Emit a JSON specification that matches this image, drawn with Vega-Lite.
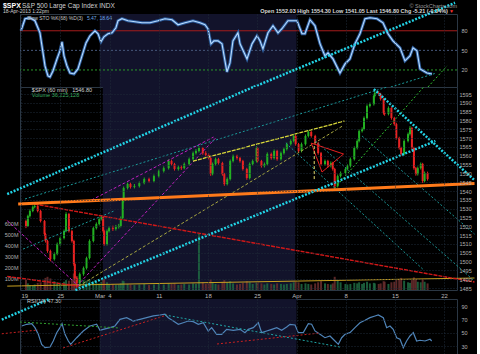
{
"$schema": "https://vega.github.io/schema/vega-lite/v6.json",
"background": "#000000",
"padding": {"left": 0, "top": 1, "right": 0, "bottom": 0},
"config": {
  "view": {"stroke": "#2b3744", "strokeWidth": 1},
  "axis": {"domain": false, "ticks": false, "gridColor": "#1f2b39", "gridDash": [1, 2], "gridWidth": 1, "labelFont": "Liberation Sans", "labelFontSize": 5.5, "labelColor": "#b0b0b0", "labelOverlap": false},
  "text": {"font": "Liberation Sans"}
},
"datasets": {
  "one": [{}],
  "candles": [
{"t":0.00,"o":1523.0,"h":1523.8,"l":1519.0,"c":1520.2,"v":95},
{"t":0.20,"o":1520.2,"h":1526.6,"l":1519.6,"c":1525.8,"v":60},
{"t":0.41,"o":1525.8,"h":1529.6,"l":1525.0,"c":1528.7,"v":45},
{"t":0.71,"o":1528.7,"h":1531.8,"l":1528.0,"c":1530.9,"v":40},
{"t":0.91,"o":1530.9,"h":1532.6,"l":1530.2,"c":1531.5,"v":50},
{"t":1.22,"o":1531.5,"h":1532.0,"l":1527.9,"c":1528.7,"v":65},
{"t":1.52,"o":1528.7,"h":1529.4,"l":1522.2,"c":1523.0,"v":70},
{"t":1.93,"o":1523.0,"h":1523.6,"l":1514.6,"c":1515.6,"v":90},
{"t":2.03,"o":1515.6,"h":1516.3,"l":1510.8,"c":1511.7,"v":110},
{"t":2.24,"o":1511.7,"h":1512.4,"l":1505.0,"c":1506.0,"v":120},
{"t":2.54,"o":1506.0,"h":1506.8,"l":1500.2,"c":1501.4,"v":105},
{"t":2.95,"o":1501.4,"h":1505.2,"l":1500.6,"c":1504.3,"v":80},
{"t":3.25,"o":1504.3,"h":1510.8,"l":1503.6,"c":1509.9,"v":70},
{"t":3.56,"o":1509.9,"h":1514.2,"l":1509.0,"c":1513.4,"v":65},
{"t":3.96,"o":1513.4,"h":1518.2,"l":1512.6,"c":1517.3,"v":75},
{"t":4.17,"o":1517.3,"h":1528.0,"l":1516.6,"c":1527.0,"v":90},
{"t":4.47,"o":1527.0,"h":1527.6,"l":1516.5,"c":1517.3,"v":85},
{"t":4.78,"o":1517.3,"h":1518.0,"l":1510.8,"c":1511.7,"v":100},
{"t":4.98,"o":1511.7,"h":1512.4,"l":1497.6,"c":1498.6,"v":150},
{"t":5.08,"o":1498.6,"h":1499.4,"l":1489.6,"c":1490.7,"v":130},
{"t":5.28,"o":1490.7,"h":1491.6,"l":1485.2,"c":1487.8,"v":125},
{"t":5.59,"o":1487.8,"h":1493.8,"l":1487.0,"c":1492.9,"v":110},
{"t":5.99,"o":1492.9,"h":1497.2,"l":1492.0,"c":1496.3,"v":90},
{"t":6.30,"o":1496.3,"h":1502.8,"l":1495.5,"c":1502.0,"v":85},
{"t":6.61,"o":1502.0,"h":1512.6,"l":1501.2,"c":1511.7,"v":95},
{"t":7.01,"o":1511.7,"h":1519.9,"l":1510.9,"c":1519.0,"v":80},
{"t":7.32,"o":1519.0,"h":1522.2,"l":1518.2,"c":1521.3,"v":70},
{"t":7.62,"o":1521.3,"h":1525.0,"l":1520.5,"c":1524.1,"v":60},
{"t":7.83,"o":1524.1,"h":1526.4,"l":1523.3,"c":1525.3,"v":75},
{"t":8.03,"o":1525.3,"h":1526.0,"l":1516.4,"c":1517.3,"v":90},
{"t":8.13,"o":1517.3,"h":1518.0,"l":1509.0,"c":1509.9,"v":100},
{"t":8.43,"o":1509.9,"h":1518.2,"l":1509.1,"c":1517.3,"v":70},
{"t":8.64,"o":1517.3,"h":1520.0,"l":1516.5,"c":1519.0,"v":55},
{"t":9.04,"o":1519.0,"h":1520.4,"l":1517.4,"c":1518.5,"v":50},
{"t":9.35,"o":1518.5,"h":1520.8,"l":1517.6,"c":1519.6,"v":45},
{"t":9.65,"o":1519.6,"h":1521.4,"l":1518.7,"c":1520.2,"v":50},
{"t":9.86,"o":1520.2,"h":1525.6,"l":1519.4,"c":1524.7,"v":60},
{"t":10.06,"o":1524.7,"h":1535.2,"l":1524.0,"c":1534.3,"v":85},
{"t":10.16,"o":1534.3,"h":1542.6,"l":1533.5,"c":1541.7,"v":80},
{"t":10.57,"o":1541.7,"h":1545.0,"l":1540.9,"c":1544.0,"v":55},
{"t":10.87,"o":1544.0,"h":1544.8,"l":1541.4,"c":1542.3,"v":50},
{"t":11.28,"o":1542.3,"h":1544.0,"l":1541.5,"c":1542.8,"v":45},
{"t":11.79,"o":1542.8,"h":1545.4,"l":1542.0,"c":1544.5,"v":50},
{"t":12.30,"o":1544.5,"h":1547.7,"l":1543.8,"c":1546.8,"v":55},
{"t":12.80,"o":1546.8,"h":1547.6,"l":1544.8,"c":1545.7,"v":45},
{"t":13.31,"o":1545.7,"h":1549.4,"l":1544.9,"c":1548.5,"v":50},
{"t":13.82,"o":1548.5,"h":1552.2,"l":1547.7,"c":1551.3,"v":55},
{"t":14.33,"o":1551.3,"h":1554.0,"l":1550.5,"c":1553.0,"v":50},
{"t":14.84,"o":1553.0,"h":1558.0,"l":1552.2,"c":1557.0,"v":60},
{"t":15.14,"o":1557.0,"h":1557.8,"l":1554.4,"c":1555.3,"v":55},
{"t":15.45,"o":1555.3,"h":1556.0,"l":1551.6,"c":1552.5,"v":60},
{"t":15.85,"o":1552.5,"h":1554.5,"l":1551.6,"c":1553.5,"v":45},
{"t":16.16,"o":1553.5,"h":1554.6,"l":1552.0,"c":1553.0,"v":50},
{"t":16.46,"o":1553.0,"h":1556.2,"l":1552.3,"c":1555.3,"v":55},
{"t":16.97,"o":1555.3,"h":1559.0,"l":1554.5,"c":1558.1,"v":50},
{"t":17.38,"o":1558.1,"h":1562.4,"l":1557.3,"c":1561.5,"v":60},
{"t":17.68,"o":1561.5,"h":1563.8,"l":1560.7,"c":1562.7,"v":55},
{"t":17.99,"o":1562.7,"h":1565.4,"l":1561.9,"c":1564.4,"v":510},
{"t":18.39,"o":1564.4,"h":1565.0,"l":1560.6,"c":1561.5,"v":70},
{"t":18.70,"o":1561.5,"h":1562.6,"l":1559.6,"c":1560.5,"v":55},
{"t":19.00,"o":1560.5,"h":1561.4,"l":1557.8,"c":1558.7,"v":60},
{"t":19.21,"o":1558.7,"h":1559.4,"l":1548.6,"c":1549.6,"v":95},
{"t":19.41,"o":1549.6,"h":1556.2,"l":1548.9,"c":1555.3,"v":70},
{"t":19.72,"o":1555.3,"h":1559.0,"l":1554.5,"c":1558.1,"v":55},
{"t":20.02,"o":1558.1,"h":1558.8,"l":1555.0,"c":1555.9,"v":50},
{"t":20.43,"o":1555.9,"h":1556.6,"l":1548.7,"c":1549.6,"v":75},
{"t":20.63,"o":1549.6,"h":1550.3,"l":1543.0,"c":1544.0,"v":90},
{"t":20.93,"o":1544.0,"h":1547.7,"l":1543.2,"c":1546.8,"v":70},
{"t":21.24,"o":1546.8,"h":1557.9,"l":1546.0,"c":1557.0,"v":80},
{"t":21.54,"o":1557.0,"h":1560.7,"l":1556.2,"c":1559.8,"v":60},
{"t":21.95,"o":1559.8,"h":1560.6,"l":1557.8,"c":1558.7,"v":50},
{"t":22.26,"o":1558.7,"h":1559.4,"l":1556.1,"c":1557.0,"v":55},
{"t":22.56,"o":1557.0,"h":1557.7,"l":1551.6,"c":1552.5,"v":65},
{"t":22.97,"o":1552.5,"h":1553.2,"l":1546.4,"c":1547.4,"v":80},
{"t":23.27,"o":1547.4,"h":1556.2,"l":1546.6,"c":1555.3,"v":70},
{"t":23.58,"o":1555.3,"h":1557.9,"l":1554.5,"c":1557.0,"v":55},
{"t":23.98,"o":1557.0,"h":1565.4,"l":1556.2,"c":1564.4,"v":65},
{"t":24.09,"o":1564.4,"h":1565.0,"l":1556.1,"c":1557.0,"v":70},
{"t":24.49,"o":1557.0,"h":1557.7,"l":1553.3,"c":1554.2,"v":60},
{"t":24.80,"o":1554.2,"h":1556.2,"l":1553.4,"c":1555.3,"v":50},
{"t":25.10,"o":1555.3,"h":1561.9,"l":1554.5,"c":1561.0,"v":60},
{"t":25.51,"o":1561.0,"h":1561.8,"l":1557.8,"c":1558.7,"v":55},
{"t":25.81,"o":1558.7,"h":1563.6,"l":1557.9,"c":1562.7,"v":50},
{"t":26.12,"o":1562.7,"h":1563.4,"l":1557.2,"c":1558.1,"v":60},
{"t":26.52,"o":1558.1,"h":1562.4,"l":1557.3,"c":1561.5,"v":55},
{"t":26.83,"o":1561.5,"h":1564.7,"l":1560.7,"c":1563.8,"v":50},
{"t":27.13,"o":1563.8,"h":1567.5,"l":1563.0,"c":1566.6,"v":55},
{"t":27.54,"o":1566.6,"h":1569.3,"l":1565.8,"c":1568.4,"v":60},
{"t":27.85,"o":1568.4,"h":1572.1,"l":1567.6,"c":1571.2,"v":70},
{"t":28.05,"o":1571.2,"h":1571.9,"l":1565.7,"c":1566.6,"v":75},
{"t":28.35,"o":1566.6,"h":1567.3,"l":1561.8,"c":1562.7,"v":70},
{"t":28.66,"o":1562.7,"h":1567.5,"l":1561.9,"c":1566.6,"v":55},
{"t":29.07,"o":1566.6,"h":1572.1,"l":1565.8,"c":1571.2,"v":60},
{"t":29.37,"o":1571.2,"h":1574.4,"l":1570.4,"c":1573.5,"v":55},
{"t":29.67,"o":1573.5,"h":1574.2,"l":1570.3,"c":1571.2,"v":50},
{"t":30.08,"o":1571.2,"h":1571.9,"l":1566.3,"c":1567.2,"v":60},
{"t":30.39,"o":1567.2,"h":1567.9,"l":1560.6,"c":1561.5,"v":70},
{"t":30.69,"o":1561.5,"h":1562.2,"l":1554.4,"c":1555.3,"v":80},
{"t":31.10,"o":1555.3,"h":1557.9,"l":1554.5,"c":1557.0,"v":60},
{"t":31.40,"o":1557.0,"h":1557.7,"l":1553.3,"c":1554.2,"v":55},
{"t":31.71,"o":1554.2,"h":1556.8,"l":1553.4,"c":1555.9,"v":50},
{"t":31.91,"o":1555.9,"h":1556.6,"l":1551.6,"c":1552.5,"v":60},
{"t":32.11,"o":1552.5,"h":1553.2,"l":1540.6,"c":1542.8,"v":120},
{"t":32.42,"o":1542.8,"h":1549.4,"l":1542.0,"c":1548.5,"v":90},
{"t":32.72,"o":1548.5,"h":1551.1,"l":1547.7,"c":1550.2,"v":70},
{"t":33.23,"o":1550.2,"h":1553.4,"l":1549.4,"c":1552.5,"v":55},
{"t":33.43,"o":1552.5,"h":1555.1,"l":1551.7,"c":1554.2,"v":50},
{"t":33.74,"o":1554.2,"h":1559.0,"l":1553.4,"c":1558.1,"v":55},
{"t":34.15,"o":1558.1,"h":1565.3,"l":1557.3,"c":1564.4,"v":65},
{"t":34.45,"o":1564.4,"h":1569.3,"l":1563.6,"c":1568.4,"v":60},
{"t":34.65,"o":1568.4,"h":1574.9,"l":1567.6,"c":1574.0,"v":70},
{"t":34.96,"o":1574.0,"h":1576.1,"l":1573.2,"c":1575.2,"v":55},
{"t":35.16,"o":1575.2,"h":1582.3,"l":1574.4,"c":1581.4,"v":65},
{"t":35.47,"o":1581.4,"h":1589.1,"l":1580.6,"c":1588.2,"v":75},
{"t":35.77,"o":1588.2,"h":1590.2,"l":1587.4,"c":1589.3,"v":60},
{"t":36.18,"o":1589.3,"h":1594.8,"l":1588.5,"c":1593.9,"v":65},
{"t":36.28,"o":1593.9,"h":1597.0,"l":1593.1,"c":1595.6,"v":60},
{"t":36.69,"o":1595.6,"h":1596.6,"l":1594.0,"c":1595.0,"v":55},
{"t":36.89,"o":1595.0,"h":1595.7,"l":1591.3,"c":1592.2,"v":60},
{"t":37.20,"o":1592.2,"h":1592.9,"l":1583.3,"c":1584.2,"v":80},
{"t":37.30,"o":1584.2,"h":1585.2,"l":1582.7,"c":1583.7,"v":75},
{"t":37.70,"o":1583.7,"h":1588.0,"l":1582.9,"c":1587.1,"v":55},
{"t":38.01,"o":1587.1,"h":1587.8,"l":1580.5,"c":1581.4,"v":70},
{"t":38.31,"o":1581.4,"h":1582.1,"l":1577.1,"c":1578.0,"v":75},
{"t":38.52,"o":1578.0,"h":1578.7,"l":1569.2,"c":1570.1,"v":95},
{"t":38.82,"o":1570.1,"h":1570.8,"l":1563.5,"c":1564.4,"v":100},
{"t":39.02,"o":1564.4,"h":1565.1,"l":1560.1,"c":1561.0,"v":110},
{"t":39.33,"o":1561.0,"h":1569.3,"l":1560.2,"c":1568.4,"v":85},
{"t":39.74,"o":1568.4,"h":1573.2,"l":1567.6,"c":1572.3,"v":70},
{"t":39.94,"o":1572.3,"h":1576.8,"l":1571.5,"c":1575.7,"v":65},
{"t":40.14,"o":1575.7,"h":1576.4,"l":1563.5,"c":1564.4,"v":90},
{"t":40.35,"o":1564.4,"h":1565.1,"l":1552.1,"c":1553.0,"v":115},
{"t":40.55,"o":1553.0,"h":1553.7,"l":1548.7,"c":1549.6,"v":100},
{"t":40.75,"o":1549.6,"h":1553.9,"l":1548.8,"c":1553.0,"v":75},
{"t":41.06,"o":1553.0,"h":1556.2,"l":1552.2,"c":1555.3,"v":70},
{"t":41.26,"o":1555.3,"h":1556.0,"l":1544.6,"c":1545.7,"v":95},
{"t":41.46,"o":1545.7,"h":1551.1,"l":1544.9,"c":1550.2,"v":75},
{"t":41.77,"o":1550.2,"h":1551.0,"l":1545.9,"c":1546.8,"v":60}
  ],
  "stoch": [
{"t":0.00,"s":80},{"t":0.41,"s":98.5},{"t":0.91,"s":100},{"t":1.42,"s":95.4},{"t":1.93,"s":76.9},{"t":2.13,"s":56.9},{"t":2.44,"s":26.2},{"t":2.74,"s":10.8},{"t":2.95,"s":9.3},{"t":3.25,"s":18.5},{"t":3.66,"s":36.9},{"t":3.96,"s":49.2},{"t":4.17,"s":63.1},{"t":4.37,"s":41.6},{"t":4.67,"s":26.2},{"t":4.98,"s":15.4},{"t":5.39,"s":13.9},{"t":5.79,"s":21.6},{"t":6.20,"s":41.6},{"t":6.61,"s":61.5},{"t":7.01,"s":72.3},{"t":7.52,"s":80.0},{"t":7.83,"s":75.4},{"t":8.13,"s":63.1},{"t":8.43,"s":70.8},{"t":8.84,"s":75.4},{"t":9.25,"s":76.9},{"t":9.65,"s":84.6},{"t":9.86,"s":95.4},{"t":10.26,"s":98.5},{"t":10.87,"s":95.4},{"t":11.59,"s":93.8},{"t":12.30,"s":92.3},{"t":13.11,"s":92.3},{"t":13.92,"s":95.4},{"t":14.63,"s":98.5},{"t":15.35,"s":96.9},{"t":15.96,"s":89.2},{"t":16.67,"s":92.3},{"t":17.48,"s":95.4},{"t":18.19,"s":92.3},{"t":18.70,"s":89.2},{"t":19.00,"s":83.1},{"t":19.31,"s":60.0},{"t":19.61,"s":64.6},{"t":20.02,"s":64.6},{"t":20.43,"s":60.0},{"t":20.73,"s":33.9},{"t":20.93,"s":16.9},{"t":21.24,"s":30.8},{"t":21.54,"s":64.6},{"t":22.05,"s":76.9},{"t":22.26,"s":60.0},{"t":22.97,"s":36.9},{"t":23.48,"s":60.0},{"t":23.98,"s":72.3},{"t":24.29,"s":64.6},{"t":24.59,"s":52.3},{"t":25.10,"s":76.9},{"t":25.61,"s":87.7},{"t":26.12,"s":76.9},{"t":26.52,"s":83.1},{"t":27.13,"s":95.4},{"t":28.05,"s":95.4},{"t":28.56,"s":75.4},{"t":28.86,"s":75.4},{"t":29.37,"s":96.9},{"t":29.88,"s":87.7},{"t":30.39,"s":60.0},{"t":30.89,"s":41.6},{"t":31.20,"s":46.2},{"t":31.71,"s":36.9},{"t":32.42,"s":15.4},{"t":32.93,"s":29.2},{"t":33.43,"s":36.9},{"t":33.94,"s":60.0},{"t":34.45,"s":75.4},{"t":34.96,"s":98.5},{"t":35.47,"s":100},{"t":36.18,"s":98.5},{"t":36.79,"s":92.3},{"t":37.30,"s":75.4},{"t":37.80,"s":64.6},{"t":38.52,"s":53.9},{"t":39.02,"s":33.9},{"t":39.53,"s":41.6},{"t":39.84,"s":53.9},{"t":40.24,"s":49.2},{"t":40.55,"s":21.6},{"t":41.26,"s":15.4},{"t":41.77,"s":13.9}
  ],
  "rsi": [
{"t":0.07,"r":60.7},{"t":0.58,"r":63.3},{"t":1.09,"r":64.2},{"t":1.42,"r":58.1},{"t":1.76,"r":48.0},{"t":2.10,"r":32.7},{"t":2.44,"r":27.6},{"t":2.95,"r":28.6},{"t":3.28,"r":37.8},{"t":3.63,"r":50.5},{"t":3.96,"r":58.1},{"t":4.17,"r":64.2},{"t":4.47,"r":48.0},{"t":4.81,"r":37.8},{"t":5.05,"r":32.7},{"t":5.66,"r":42.8},{"t":6.33,"r":53.1},{"t":7.01,"r":60.7},{"t":7.69,"r":63.3},{"t":8.03,"r":54.1},{"t":8.36,"r":55.6},{"t":9.04,"r":58.1},{"t":9.55,"r":60.7},{"t":10.06,"r":70.9},{"t":10.74,"r":73.4},{"t":11.41,"r":68.3},{"t":12.09,"r":70.9},{"t":12.77,"r":73.4},{"t":13.45,"r":76.0},{"t":14.13,"r":77.5},{"t":14.63,"r":78.6},{"t":14.97,"r":73.4},{"t":15.48,"r":68.3},{"t":15.99,"r":63.3},{"t":16.49,"r":65.7},{"t":17.00,"r":68.3},{"t":17.51,"r":67.3},{"t":18.02,"r":63.3},{"t":18.53,"r":65.7},{"t":19.03,"r":53.1},{"t":19.38,"r":58.1},{"t":19.89,"r":48.0},{"t":20.40,"r":48.0},{"t":20.90,"r":55.6},{"t":21.58,"r":54.1},{"t":22.26,"r":55.6},{"t":22.76,"r":50.5},{"t":23.10,"r":55.6},{"t":23.61,"r":58.1},{"t":24.12,"r":65.7},{"t":24.46,"r":50.5},{"t":24.97,"r":53.1},{"t":25.48,"r":55.6},{"t":25.99,"r":58.1},{"t":26.49,"r":54.1},{"t":27.00,"r":59.2},{"t":27.34,"r":63.3},{"t":27.85,"r":62.2},{"t":28.18,"r":50.5},{"t":28.69,"r":50.5},{"t":29.20,"r":64.2},{"t":29.54,"r":63.3},{"t":29.88,"r":53.1},{"t":30.39,"r":48.0},{"t":30.89,"r":42.8},{"t":31.40,"r":45.4},{"t":31.91,"r":37.8},{"t":32.25,"r":32.7},{"t":32.59,"r":42.8},{"t":32.93,"r":48.0},{"t":33.43,"r":50.5},{"t":33.94,"r":58.1},{"t":34.45,"r":65.7},{"t":34.96,"r":69.4},{"t":35.47,"r":73.4},{"t":35.98,"r":76.0},{"t":36.31,"r":77.5},{"t":36.82,"r":73.4},{"t":37.16,"r":58.1},{"t":37.50,"r":60.7},{"t":37.83,"r":55.6},{"t":38.18,"r":42.8},{"t":38.52,"r":40.4},{"t":38.85,"r":27.6},{"t":39.19,"r":37.8},{"t":39.53,"r":45.4},{"t":39.87,"r":50.5},{"t":40.21,"r":37.8},{"t":40.55,"r":38.9},{"t":41.06,"r":37.8},{"t":41.57,"r":40.4},{"t":41.74,"r":37.8}
  ],
  "plines": [
{"g":"cyan","t":-1.95,"p":1538.3,"t2":23.65,"p2":1599.0},
{"g":"cyan","t":5.14,"p":1483.9,"t2":42.58,"p2":1568.4},
{"g":"cyan","t":36.18,"p":1597.8,"t2":46.65,"p2":1546.2},
{"g":"teal","t":-0.10,"p":1535.5,"t2":37.58,"p2":1599.0},
{"g":"teal","t":-0.30,"p":1507.1,"t2":9.15,"p2":1528.7},
{"g":"teal","t":27.03,"p":1567.2,"t2":41.26,"p2":1495.8},
{"g":"teal","t":30.08,"p":1568.4,"t2":46.65,"p2":1489.0},
{"g":"teal","t":34.96,"p":1571.2,"t2":46.65,"p2":1515.6},
{"g":"magenta","t":-1.95,"p":1523.2,"t2":5.49,"p2":1486.1},
{"g":"magenta","t":5.28,"p":1486.1,"t2":19.72,"p2":1570.1},
{"g":"magenta","t":6.81,"p":1534.9,"t2":19.51,"p2":1570.6},
{"g":"yellow","t":17.38,"p":1557.0,"t2":33.13,"p2":1579.7},
{"g":"yellow2","t":5.49,"p":1486.1,"t2":32.93,"p2":1576.9},
{"g":"gold","t":-1.95,"p":1486.1,"t2":46.65,"p2":1490.7},
{"g":"orange","t":-0.81,"p":1532.6,"t2":46.65,"p2":1544.3},
{"g":"red","t":0.91,"p":1532.6,"t2":46.65,"p2":1488.4},
{"g":"red","t":-1.95,"p":1491.6,"t2":5.49,"p2":1486.1},
{"g":"tri","t":29.67,"p":1567.2,"t2":33.03,"p2":1561.0},
{"g":"tri","t":33.03,"p":1561.0,"t2":30.79,"p2":1550.8},
{"g":"tri","t":30.79,"p":1550.8,"t2":29.67,"p2":1567.2},
{"g":"vdash","t":29.98,"p":1565.5,"t2":29.98,"p2":1546.8},
{"g":"green","t":32.11,"p":1541.7,"t2":41.36,"p2":1599.0}
  ],
  "slines": [
{"g":"cyan","t":23.65,"s":-6.1,"t2":44.11,"s2":122.9},
{"g":"teal","t":37.58,"s":-6.1,"t2":42.07,"s2":14.6},
{"g":"green","t":41.36,"s":-6.1,"t2":43.29,"s2":26.2}
  ],
  "rlines": [
{"g":"cyan","t":-1.95,"r":70.5,"t2":2.89,"r2":101.9},
{"g":"green","t":-0.10,"r":66.8,"t2":10.06,"r2":57.6},
{"g":"red","t":-1.95,"r":48.8,"t2":1.73,"r2":54.6},
{"g":"red","t":4.27,"r":27.1,"t2":14.84,"r2":77.5},
{"g":"teal","t":14.63,"r":77.5,"t2":32.42,"r2":28.6},
{"g":"red","t":19.92,"r":33.2,"t2":30.39,"r2":50.0}
  ]
},
"vconcat": [
   {
    "width": 437, "height": 73,
    "resolve": {"scale": {"x": "independent", "y": "independent"}},
    "layer": [
     {
      "layer": [
       {"data": {"name": "one"}, "mark": {"type": "rect", "color": "#12132b"}, "encoding": {"x": {"datum": 8, "axis": null, "scale": {"domain": [-0.1, 44.31], "nice": false, "zero": false}}, "x2": {"datum": 28}}},
       {"data": {"name": "one"}, "mark": {"type": "rule", "color": "#a51c1c", "strokeWidth": 1}, "encoding": {"y": {"datum": 80, "axis": null, "scale": {"domain": [-6.1, 105.7], "nice": false, "zero": false}}}},
       {"data": {"name": "one"}, "mark": {"type": "rule", "color": "#46587a", "strokeWidth": 1, "strokeDash": [2, 2]}, "encoding": {"y": {"datum": 50, "axis": null}}},
       {"data": {"name": "one"}, "mark": {"type": "rule", "color": "#2a9a2a", "strokeWidth": 1, "strokeDash": [2, 2]}, "encoding": {"y": {"datum": 20, "axis": null}}},
       {"data": {"name": "stoch"}, "mark": {"type": "line", "color": "#2c5c9c", "strokeWidth": 3},
        "encoding": {"x": {"field": "t", "type": "quantitative", "axis": null}, "y": {"field": "s", "type": "quantitative", "axis": null}}},
       {"data": {"name": "stoch"}, "mark": {"type": "line", "color": "#b8dcff", "strokeWidth": 1.1},
        "encoding": {"x": {"field": "t", "type": "quantitative", "axis": null}, "y": {"field": "s", "type": "quantitative", "axis": null}}},
       {"data": {"name": "slines"}, "transform": [{"filter": "datum.g == 'cyan'"}], "mark": {"type": "rule", "color": "#22d3e6", "strokeWidth": 2.5, "strokeDash": [2, 1.5]},
        "encoding": {"x": {"field": "t", "type": "quantitative", "axis": null}, "x2": {"field": "t2"}, "y": {"field": "s", "type": "quantitative", "axis": null}, "y2": {"field": "s2"}}},
       {"data": {"name": "slines"}, "transform": [{"filter": "datum.g == 'teal'"}], "mark": {"type": "rule", "color": "#1a9a9a", "strokeWidth": 1, "strokeDash": [2, 2]},
        "encoding": {"x": {"field": "t", "type": "quantitative", "axis": null}, "x2": {"field": "t2"}, "y": {"field": "s", "type": "quantitative", "axis": null}, "y2": {"field": "s2"}}},
       {"data": {"name": "slines"}, "transform": [{"filter": "datum.g == 'green'"}], "mark": {"type": "rule", "color": "#30c030", "strokeWidth": 1, "strokeDash": [2, 2]},
        "encoding": {"x": {"field": "t", "type": "quantitative", "axis": null}, "x2": {"field": "t2"}, "y": {"field": "s", "type": "quantitative", "axis": null}, "y2": {"field": "s2"}}},
       {"data": {"name": "one"}, "mark": {"type": "text", "text": "$SPX", "align": "left", "baseline": "middle", "fontSize": 7, "fontWeight": "bold", "color": "#ffffff"}, "encoding": {"x": {"datum": -1.83, "axis": null}, "y": {"datum": 118.5, "axis": null}}},
       {"data": {"name": "one"}, "mark": {"type": "text", "text": "S&P 500 Large Cap Index  INDX", "align": "left", "baseline": "middle", "fontSize": 6.5, "color": "#d0d0d0"}, "encoding": {"x": {"datum": 0.1, "axis": null}, "y": {"datum": 118.5, "axis": null}}},
       {"data": {"name": "one"}, "mark": {"type": "text", "text": "18-Apr-2013 1:22pm", "align": "left", "baseline": "middle", "fontSize": 5, "color": "#d0d0d0"}, "encoding": {"x": {"datum": -1.83, "axis": null}, "y": {"datum": 110, "axis": null}}},
       {"data": {"name": "one"}, "mark": {"type": "text", "text": "Open 1552.03  High 1554.30  Low 1541.05  Last 1546.80  Chg -5.21 (-0.34%)", "align": "right", "baseline": "middle", "fontSize": 5.5, "fontWeight": "bold", "color": "#d8d8d8"}, "encoding": {"x": {"datum": 43.39, "axis": null}, "y": {"datum": 110.3, "axis": null}}},
       {"data": {"name": "one"}, "mark": {"type": "text", "text": "▼", "align": "left", "baseline": "middle", "fontSize": 5, "color": "#ff3030"}, "encoding": {"x": {"datum": 43.5, "axis": null}, "y": {"datum": 110.3, "axis": null}}},
       {"data": {"name": "one"}, "mark": {"type": "text", "text": "© StockCharts.com", "align": "right", "baseline": "middle", "fontSize": 5.5, "color": "#9a9a9a"}, "encoding": {"x": {"datum": 44.31, "axis": null}, "y": {"datum": 118.5, "axis": null}}},
       {"data": {"name": "one"}, "mark": {"type": "text", "text": "Slow STO %K(68) %D(3)", "align": "left", "baseline": "middle", "fontSize": 5, "color": "#c8c8c8"}, "encoding": {"x": {"datum": 0.61, "axis": null}, "y": {"datum": 100.2, "axis": null}}}
      ]
     },
     {"data": {"name": "one"}, "mark": {"type": "text", "text": "5.47, 18.64", "align": "left", "baseline": "middle", "fontSize": 5, "color": "#6fa8e8"},
      "encoding": {
       "x": {"datum": 6.7, "title": null, "scale": {"domain": [-0.1, 44.31], "nice": false, "zero": false}, "axis": {"values": [0, 4, 8, 9, 14, 19, 24, 28, 33, 38, 43], "labels": false, "grid": true, "zindex": 1}},
       "y": {"datum": 100.2, "title": null, "scale": {"domain": [-6.1, 105.7], "nice": false, "zero": false}, "axis": {"orient": "right", "values": [20, 50, 80], "grid": false, "labelPadding": 4, "labelOverlap": false}}
      }}
    ]
   },
   {
    "width": 437, "height": 203,
    "resolve": {"scale": {"x": "independent", "y": "independent"}},
    "layer": [
     {
      "layer": [
       {"data": {"name": "one"}, "mark": {"type": "rect", "color": "#12132b"}, "encoding": {"x": {"datum": 8, "axis": null, "scale": {"domain": [-0.1, 44.31], "nice": false, "zero": false}}, "x2": {"datum": 28}}},
       {"data": {"name": "candles"}, "mark": {"type": "bar", "width": 2, "opacity": 0.85},
        "encoding": {
         "x": {"field": "t", "type": "quantitative", "axis": null},
         "y": {"field": "v", "type": "quantitative", "title": null, "scale": {"domain": [0, 1845], "nice": false}, "axis": {"orient": "left", "values": [100, 200, 300, 400, 500, 600], "labelExpr": "datum.value + 'M'", "grid": false, "labelPadding": 2, "labelOverlap": false}},
         "color": {"condition": {"test": "datum.c >= datum.o", "value": "#1f6a42"}, "value": "#6a2e2e"}
        }}
      ]
     },
     {
      "layer": [
       {"data": {"name": "candles"}, "mark": {"type": "rule", "strokeWidth": 1},
        "encoding": {
         "x": {"field": "t", "type": "quantitative", "axis": null, "scale": {"domain": [-0.1, 44.31], "nice": false, "zero": false}},
         "y": {"field": "l", "type": "quantitative", "axis": null, "scale": {"domain": [1483.9, 1599.0], "nice": false, "zero": false}},
         "y2": {"field": "h"},
         "color": {"condition": {"test": "datum.c >= datum.o", "value": "#22b022"}, "value": "#e82222"}
        }},
       {"data": {"name": "candles"}, "mark": {"type": "bar", "width": 2},
        "encoding": {
         "x": {"field": "t", "type": "quantitative", "axis": null},
         "y": {"field": "o", "type": "quantitative", "axis": null},
         "y2": {"field": "c"},
         "color": {"condition": {"test": "datum.c >= datum.o", "value": "#22b022"}, "value": "#e82222"}
        }},
       {"data": {"name": "plines"}, "transform": [{"filter": "datum.g == 'gold'"}], "mark": {"type": "rule", "color": "#c8a020", "strokeWidth": 1},
        "encoding": {"x": {"field": "t", "type": "quantitative", "axis": null}, "x2": {"field": "t2"}, "y": {"field": "p", "type": "quantitative", "axis": null}, "y2": {"field": "p2"}}},
       {"data": {"name": "plines"}, "transform": [{"filter": "datum.g == 'teal'"}], "mark": {"type": "rule", "color": "#1a9a9a", "strokeWidth": 1, "strokeDash": [2, 2]},
        "encoding": {"x": {"field": "t", "type": "quantitative", "axis": null}, "x2": {"field": "t2"}, "y": {"field": "p", "type": "quantitative", "axis": null}, "y2": {"field": "p2"}}},
       {"data": {"name": "plines"}, "transform": [{"filter": "datum.g == 'magenta'"}], "mark": {"type": "rule", "color": "#c020c0", "strokeWidth": 1, "strokeDash": [3, 2]},
        "encoding": {"x": {"field": "t", "type": "quantitative", "axis": null}, "x2": {"field": "t2"}, "y": {"field": "p", "type": "quantitative", "axis": null}, "y2": {"field": "p2"}}},
       {"data": {"name": "plines"}, "transform": [{"filter": "datum.g == 'yellow'"}], "mark": {"type": "rule", "color": "#d8d83a", "strokeWidth": 1.3, "strokeDash": [4, 1]},
        "encoding": {"x": {"field": "t", "type": "quantitative", "axis": null}, "x2": {"field": "t2"}, "y": {"field": "p", "type": "quantitative", "axis": null}, "y2": {"field": "p2"}}},
       {"data": {"name": "plines"}, "transform": [{"filter": "datum.g == 'yellow2'"}], "mark": {"type": "rule", "color": "#a8a840", "strokeWidth": 1, "strokeDash": [3, 2]},
        "encoding": {"x": {"field": "t", "type": "quantitative", "axis": null}, "x2": {"field": "t2"}, "y": {"field": "p", "type": "quantitative", "axis": null}, "y2": {"field": "p2"}}},
       {"data": {"name": "plines"}, "transform": [{"filter": "datum.g == 'red'"}], "mark": {"type": "rule", "color": "#d01818", "strokeWidth": 1.4, "strokeDash": [4, 1]},
        "encoding": {"x": {"field": "t", "type": "quantitative", "axis": null}, "x2": {"field": "t2"}, "y": {"field": "p", "type": "quantitative", "axis": null}, "y2": {"field": "p2"}}},
       {"data": {"name": "plines"}, "transform": [{"filter": "datum.g == 'tri'"}], "mark": {"type": "rule", "color": "#e82020", "strokeWidth": 1},
        "encoding": {"x": {"field": "t", "type": "quantitative", "axis": null}, "x2": {"field": "t2"}, "y": {"field": "p", "type": "quantitative", "axis": null}, "y2": {"field": "p2"}}},
       {"data": {"name": "plines"}, "transform": [{"filter": "datum.g == 'vdash'"}], "mark": {"type": "rule", "color": "#e8e070", "strokeWidth": 1, "strokeDash": [3, 2]},
        "encoding": {"x": {"field": "t", "type": "quantitative", "axis": null}, "x2": {"field": "t2"}, "y": {"field": "p", "type": "quantitative", "axis": null}, "y2": {"field": "p2"}}},
       {"data": {"name": "plines"}, "transform": [{"filter": "datum.g == 'green'"}], "mark": {"type": "rule", "color": "#30c030", "strokeWidth": 1, "strokeDash": [2, 2]},
        "encoding": {"x": {"field": "t", "type": "quantitative", "axis": null}, "x2": {"field": "t2"}, "y": {"field": "p", "type": "quantitative", "axis": null}, "y2": {"field": "p2"}}},
       {"data": {"name": "plines"}, "transform": [{"filter": "datum.g == 'orange'"}], "mark": {"type": "rule", "color": "#ff7a1a", "strokeWidth": 3},
        "encoding": {"x": {"field": "t", "type": "quantitative", "axis": null}, "x2": {"field": "t2"}, "y": {"field": "p", "type": "quantitative", "axis": null}, "y2": {"field": "p2"}}},
       {"data": {"name": "plines"}, "transform": [{"filter": "datum.g == 'cyan'"}], "mark": {"type": "rule", "color": "#22d3e6", "strokeWidth": 2.5, "strokeDash": [2, 1.5]},
        "encoding": {"x": {"field": "t", "type": "quantitative", "axis": null}, "x2": {"field": "t2"}, "y": {"field": "p", "type": "quantitative", "axis": null}, "y2": {"field": "p2"}}},
       {"data": {"name": "one"}, "mark": {"type": "text", "text": "$SPX (60 min)", "align": "left", "baseline": "middle", "fontSize": 5.5, "color": "#d0d0d0"}, "encoding": {"x": {"datum": 0.61, "axis": null}, "y": {"datum": 1597.4, "axis": null}}},
       {"data": {"name": "one"}, "mark": {"type": "text", "text": "Volume 36,225,128", "align": "left", "baseline": "middle", "fontSize": 5.5, "color": "#3cb060"}, "encoding": {"x": {"datum": 0.61, "axis": null}, "y": {"datum": 1594.4, "axis": null}}}
      ]
     },
     {"data": {"name": "one"}, "mark": {"type": "text", "text": "1546.80", "align": "left", "baseline": "middle", "fontSize": 5.5, "color": "#d0d0d0"},
      "encoding": {
       "x": {"datum": 5.2, "title": null, "scale": {"domain": [-0.1, 44.31], "nice": false, "zero": false},
             "axis": {"values": [0, 4, 8, 9, 14, 19, 24, 28, 33, 38, 43], "grid": true, "zindex": 1, "labelOverlap": false, "labelPadding": 2, "labelFontSize": 6,
                      "labelExpr": "datum.value == 0 ? '19' : datum.value == 4 ? '25' : datum.value == 8 ? 'Mar' : datum.value == 9 ? '4' : datum.value == 14 ? '11' : datum.value == 19 ? '18' : datum.value == 24 ? '25' : datum.value == 28 ? 'Apr' : datum.value == 33 ? '8' : datum.value == 38 ? '15' : datum.value == 43 ? '22' : ''",
                      "labelFontWeight": {"expr": "datum.label == 'Mar' || datum.label == 'Apr' ? 'bold' : 'normal'"},
                      "labelColor": {"expr": "datum.label == 'Mar' || datum.label == 'Apr' ? '#ffffff' : '#b8b8b8'"}}},
       "y": {"datum": 1597.4, "title": null, "scale": {"domain": [1483.9, 1599.0], "nice": false, "zero": false},
             "axis": {"orient": "right", "values": [1485, 1490, 1495, 1500, 1505, 1510, 1515, 1520, 1525, 1530, 1535, 1540, 1545, 1550, 1555, 1560, 1565, 1570, 1575, 1580, 1585, 1590, 1595], "format": "d", "grid": true, "zindex": 1, "labelPadding": 2, "labelOverlap": false}}
      }}
    ]
   },
   {
    "width": 437, "height": 9,
    "view": {"stroke": null},
    "data": {"name": "one"},
    "mark": {"type": "text", "text": ""},
    "encoding": {}
   },
   {
    "width": 437, "height": 56,
    "resolve": {"scale": {"x": "independent", "y": "independent"}},
    "layer": [
     {
      "layer": [
       {"data": {"name": "one"}, "mark": {"type": "rect", "color": "#12132b"}, "encoding": {"x": {"datum": 8, "axis": null, "scale": {"domain": [-0.1, 44.31], "nice": false, "zero": false}}, "x2": {"datum": 28}}},
       {"data": {"name": "rsi"}, "mark": {"type": "line", "color": "#4f84b8", "strokeWidth": 1.2},
        "encoding": {"x": {"field": "t", "type": "quantitative", "axis": null}, "y": {"field": "r", "type": "quantitative", "axis": null, "scale": {"domain": [16.4, 101.9], "nice": false, "zero": false}}}},
       {"data": {"name": "rlines"}, "transform": [{"filter": "datum.g == 'green'"}], "mark": {"type": "rule", "color": "#30a030", "strokeWidth": 1, "strokeDash": [2, 2]},
        "encoding": {"x": {"field": "t", "type": "quantitative", "axis": null}, "x2": {"field": "t2"}, "y": {"field": "r", "type": "quantitative", "axis": null}, "y2": {"field": "r2"}}},
       {"data": {"name": "rlines"}, "transform": [{"filter": "datum.g == 'red'"}], "mark": {"type": "rule", "color": "#c82020", "strokeWidth": 1, "strokeDash": [2, 2]},
        "encoding": {"x": {"field": "t", "type": "quantitative", "axis": null}, "x2": {"field": "t2"}, "y": {"field": "r", "type": "quantitative", "axis": null}, "y2": {"field": "r2"}}},
       {"data": {"name": "rlines"}, "transform": [{"filter": "datum.g == 'teal'"}], "mark": {"type": "rule", "color": "#20a8a8", "strokeWidth": 1, "strokeDash": [2, 2]},
        "encoding": {"x": {"field": "t", "type": "quantitative", "axis": null}, "x2": {"field": "t2"}, "y": {"field": "r", "type": "quantitative", "axis": null}, "y2": {"field": "r2"}}},
       {"data": {"name": "rlines"}, "transform": [{"filter": "datum.g == 'cyan'"}], "mark": {"type": "rule", "color": "#22d3e6", "strokeWidth": 2.5, "strokeDash": [2, 1.5]},
        "encoding": {"x": {"field": "t", "type": "quantitative", "axis": null}, "x2": {"field": "t2"}, "y": {"field": "r", "type": "quantitative", "axis": null}, "y2": {"field": "r2"}}}
      ]
     },
     {"data": {"name": "one"}, "mark": {"type": "text", "text": "RSI(14) 47.30", "align": "left", "baseline": "middle", "fontSize": 5.5, "color": "#c8c8c8"},
      "encoding": {
       "x": {"datum": 0.61, "title": null, "scale": {"domain": [-0.1, 44.31], "nice": false, "zero": false}, "axis": {"values": [0, 4, 8, 9, 14, 19, 24, 28, 33, 38, 43], "labels": false, "grid": true, "zindex": 1}},
       "y": {"datum": 98.9, "title": null, "scale": {"domain": [16.4, 101.9], "nice": false, "zero": false}, "axis": {"orient": "right", "values": [30, 50, 70, 90], "grid": true, "zindex": 1, "labelPadding": 4, "labelOverlap": false}}
      }}
    ]
   }
],
"spacing": 0,
"bounds": "flush",
"resolve": {"scale": {"x": "independent", "y": "independent"}}
}
